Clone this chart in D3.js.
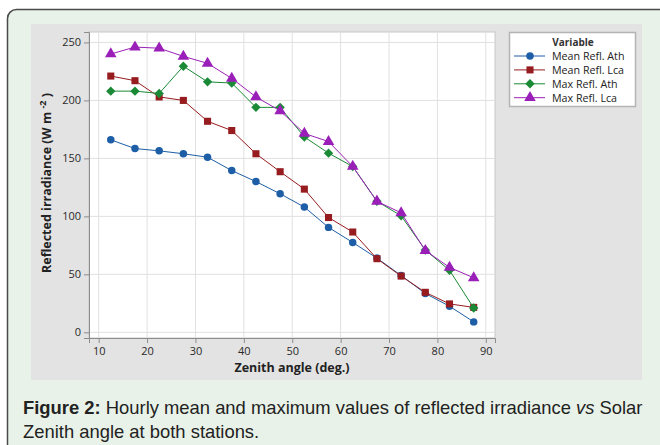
<!DOCTYPE html>
<html>
<head>
<meta charset="utf-8">
<script src="https://cdn.jsdelivr.net/npm/d3@7"></script>
<style>
  body { margin: 0; background: #fff; }
  svg { display: block; }
</style>
</head>
<body>
<svg id="chart" width="660" height="445"></svg>
<script>
// zenith angle bins
var zenith = [12.5, 17.5, 22.5, 27.5, 32.5, 37.5, 42.5, 47.5, 52.5, 57.5, 62.5, 67.5, 72.5, 77.5, 82.5, 87.5];
var meanAth = [166, 158.5, 156.5, 154, 151, 139.5, 130, 119.5, 108, 90.5, 77.5, 64, 49, 33.5, 22.5, 9];
var meanLca = [221, 217, 203, 200, 182, 174, 154, 138.5, 123.5, 99, 86.5, 63.5, 48.5, 34.5, 24.5, 21.5];
var maxAth = [208, 208, 206, 229.5, 216, 215, 194, 194, 168.5, 154.5, 143, 113, 100.5, 71, 53.5, 21];
var maxLca = [240, 246, 245, 238, 232, 219, 203, 191, 171.5, 164.5, 143, 113, 103, 70.5, 56, 47];

var seriesNames = ["Mean Refl. Ath", "Mean Refl. Lca", "Max Refl. Ath", "Max Refl. Lca"];
var seriesColors = ["#1d5ea6", "#971c1f", "#1b8a36", "#9a1fb8"];
var seriesData = [meanAth, meanLca, maxAth, maxLca];

var xTicks = [10, 20, 30, 40, 50, 60, 70, 80, 90];
var yTicks = [0, 50, 100, 150, 200, 250];

// marker shapes: circle, square, square turned 45deg, triangle
var markers = [
  { sym: d3.symbolCircle, size: 44, rot: 0 },
  { sym: d3.symbolSquare, size: 50, rot: 0 },
  { sym: d3.symbolSquare, size: 44, rot: 45 },
  { sym: d3.symbolTriangle, size: 58, rot: 0 }
];

function markerAt(sel, i) {
  sel.attr("d", d3.symbol().type(markers[i].sym).size(markers[i].size))
    .attr("fill", seriesColors[i]);
}

var svg = d3.select("#chart");

// outer figure frame
svg.append("rect")
  .attr("x", 7.5).attr("y", 9.5)
  .attr("width", 680).attr("height", 460)
  .attr("rx", 9)
  .attr("fill", "#e9f2e8")
  .attr("stroke", "#4a4a4a")
  .attr("stroke-width", 1.5);

// minitab grey background
svg.append("rect")
  .attr("x", 31).attr("y", 24)
  .attr("width", 611).attr("height", 356)
  .attr("fill", "#e3e3e3");

var plot = { left: 89, right: 495, top: 32, bottom: 338 };

var x = d3.scaleLinear().domain([8, 91.9]).range([plot.left, plot.right]);
var y = d3.scaleLinear().domain([-4.9, 259]).range([plot.bottom, plot.top]);

svg.append("rect")
  .attr("x", plot.left).attr("y", plot.top)
  .attr("width", plot.right - plot.left).attr("height", plot.bottom - plot.top)
  .attr("fill", "#fff")
  .attr("stroke", "#c8c8c8");

// grid lines
svg.append("g").selectAll("line")
  .data(xTicks)
  .enter().append("line")
  .attr("x1", function (d) { return x(d); })
  .attr("x2", function (d) { return x(d); })
  .attr("y1", plot.top).attr("y2", plot.bottom)
  .attr("stroke", "#e0e0e0");

svg.append("g").selectAll("line")
  .data(yTicks)
  .enter().append("line")
  .attr("y1", function (d) { return y(d); })
  .attr("y2", function (d) { return y(d); })
  .attr("x1", plot.left).attr("x2", plot.right)
  .attr("stroke", "#e0e0e0");

// axes
var xAxis = svg.append("g")
  .attr("transform", "translate(0," + plot.bottom + ")")
  .call(d3.axisBottom(x).tickValues(xTicks).tickSize(5).tickPadding(4));
var yAxis = svg.append("g")
  .attr("transform", "translate(" + plot.left + ",0)")
  .call(d3.axisLeft(y).tickValues(yTicks).tickSize(5).tickPadding(3));

[xAxis, yAxis].forEach(function (a) {
  a.select(".domain").attr("stroke", "#8c8c8c");
  a.selectAll(".tick line").attr("stroke", "#8c8c8c");
  a.selectAll(".tick text")
    .attr("fill", "#2a2a2a")
    .attr("font-family", "'Open Sans', sans-serif")
    .attr("font-size", "11px");
});

// axis titles
svg.append("text")
  .attr("x", (plot.left + plot.right) / 2)
  .attr("y", 372)
  .attr("text-anchor", "middle")
  .attr("font-family", "'Open Sans', sans-serif")
  .attr("font-weight", "bold")
  .attr("font-size", "12.5px")
  .attr("fill", "#222")
  .text("Zenith angle (deg.)");

var yt = svg.append("text")
  .attr("transform", "translate(51,183) rotate(-90)")
  .attr("text-anchor", "middle")
  .attr("font-family", "'Open Sans', sans-serif")
  .attr("font-weight", "bold")
  .attr("font-size", "12.5px")
  .attr("fill", "#222");
yt.append("tspan").text("Reflected irradiance (W m ");
yt.append("tspan").attr("dy", -5).attr("font-size", "9px").text("-2");
yt.append("tspan").attr("dy", 5).text(" )");

// series
seriesData.forEach(function (vals, i) {
  var pts = zenith.map(function (z, k) { return [z, vals[k]]; });
  var line = d3.line()
    .x(function (d) { return x(d[0]); })
    .y(function (d) { return y(d[1]); });
  svg.append("path")
    .datum(pts)
    .attr("d", line)
    .attr("fill", "none")
    .attr("stroke", seriesColors[i])
    .attr("stroke-width", 1);
  svg.append("g").selectAll("path")
    .data(pts)
    .enter().append("path")
    .call(markerAt, i)
    .attr("transform", function (d) {
      return "translate(" + x(d[0]) + "," + y(d[1]) + ") rotate(" + markers[i].rot + ")";
    });
});

// legend
var lg = svg.append("g");
lg.append("rect")
  .attr("x", 509.5).attr("y", 32.5)
  .attr("width", 126).attr("height", 74)
  .attr("fill", "#fff")
  .attr("stroke", "#b4b4b4")
  .attr("stroke-width", 1.5);
lg.append("text")
  .attr("x", 573).attr("y", 45.5)
  .attr("text-anchor", "middle")
  .attr("font-family", "'Open Sans', sans-serif")
  .attr("font-weight", "bold")
  .attr("font-size", "10px")
  .attr("fill", "#333")
  .text("Variable");
seriesNames.forEach(function (name, i) {
  var ly = 56 + i * 13.9;
  lg.append("line")
    .attr("x1", 514).attr("x2", 545)
    .attr("y1", ly).attr("y2", ly)
    .attr("stroke", seriesColors[i]);
  lg.append("path")
    .call(markerAt, i)
    .attr("transform", "translate(530," + ly + ") rotate(" + markers[i].rot + ")");
  lg.append("text")
    .attr("x", 552).attr("y", ly + 3.8)
    .attr("font-family", "'Open Sans', sans-serif")
    .attr("font-size", "10.7px")
    .attr("fill", "#222")
    .text(name);
});

// caption
var cap = svg.append("g")
  .attr("font-family", "'Liberation Sans', Arial, sans-serif")
  .attr("font-size", "18.4px")
  .attr("fill", "#222");
var l1 = cap.append("text").attr("x", 23).attr("y", 414);
l1.append("tspan").attr("font-weight", "bold").text("Figure 2:");
l1.append("tspan").text(" Hourly mean and maximum values of reflected irradiance ");
l1.append("tspan").attr("font-style", "italic").text("vs");
l1.append("tspan").text(" Solar");
cap.append("text").attr("x", 23).attr("y", 438)
  .text("Zenith angle at both stations.");
</script>
</body>
</html>
